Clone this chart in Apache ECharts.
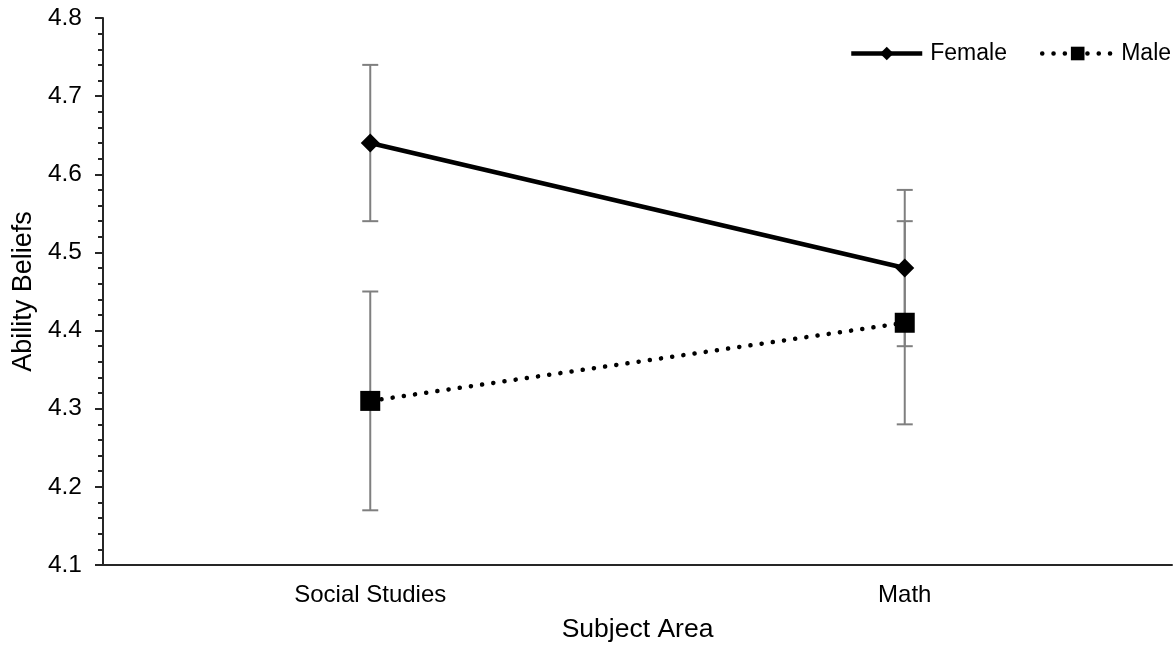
<!DOCTYPE html>
<html>
<head>
<meta charset="utf-8">
<title>Ability Beliefs by Subject Area</title>
<script src="https://cdn.jsdelivr.net/npm/echarts@6/dist/echarts.min.js"></script>
<style>
  html, body { margin: 0; padding: 0; background: #fff; }
  #chart { width: 1175px; height: 650px; }
</style>
</head>
<body>
<div id="chart"></div>
<script>
// Subject areas on the x axis
const categories = ['Social Studies', 'Math'];

// Mean ability beliefs per group
const femaleMeans = [4.64, 4.48];
const maleMeans = [4.31, 4.41];

// Error bar bounds (lower, upper) per group
const femaleLower = [4.54, 4.38];
const femaleUpper = [4.74, 4.58];
const maleLower = [4.17, 4.28];
const maleUpper = [4.45, 4.54];

const FONT = '"Liberation Sans", Arial, sans-serif';
const LINE_W = 4.5;
const DOT_DASH = [0.1, 11.2];

function errorBarData(lower, upper) {
  return categories.map((c, i) => [i, lower[i], upper[i]]);
}

function renderErrorBar(params, api) {
  const x = api.value(0);
  const lo = api.coord([x, api.value(1)]);
  const hi = api.coord([x, api.value(2)]);
  const half = 8;
  const style = { stroke: '#7f7f7f', lineWidth: 2, fill: null };
  return {
    type: 'group',
    children: [
      { type: 'line', shape: { x1: lo[0], y1: lo[1], x2: hi[0], y2: hi[1] }, style },
      { type: 'line', shape: { x1: hi[0] - half, y1: hi[1], x2: hi[0] + half, y2: hi[1] }, style },
      { type: 'line', shape: { x1: lo[0] - half, y1: lo[1], x2: lo[0] + half, y2: lo[1] }, style }
    ]
  };
}

const chart = echarts.init(document.getElementById('chart'), null, { renderer: 'canvas' });

chart.setOption({
  animation: false,
  backgroundColor: '#ffffff',
  textStyle: { fontFamily: FONT, color: '#000' },
  grid: { left: 103, right: 3, top: 18, bottom: 85 },
  legend: {
    data: [
      { name: 'Female', lineStyle: { width: LINE_W, color: '#000', type: 'solid' } },
      { name: 'Male', lineStyle: { width: LINE_W, color: '#000', type: DOT_DASH, cap: 'round' } }
    ],
    orient: 'horizontal',
    left: 849,
    top: 42,
    width: 330,
    padding: 0,
    itemWidth: 71,
    itemHeight: 17,
    itemGap: 33,
    textStyle: { fontFamily: FONT, fontSize: 23, color: '#000', padding: [0, 0, 0, 3] }
  },
  xAxis: {
    type: 'category',
    data: categories,
    boundaryGap: true,
    name: 'Subject Area',
    nameLocation: 'middle',
    nameGap: 51,
    nameTextStyle: { fontFamily: FONT, fontSize: 26.5, color: '#000' },
    axisLine: { lineStyle: { color: '#262626', width: 2 } },
    axisTick: { show: false },
    axisLabel: { fontFamily: FONT, fontSize: 24, color: '#000', margin: 18 },
    splitLine: { show: false }
  },
  yAxis: {
    type: 'value',
    min: 4.1,
    max: 4.8,
    interval: 0.1,
    name: 'Ability Beliefs',
    nameLocation: 'middle',
    nameGap: 60,
    nameTextStyle: { fontFamily: FONT, fontSize: 27, color: '#000' },
    axisLine: { show: true, lineStyle: { color: '#262626', width: 2 } },
    axisTick: { show: true, length: 8, lineStyle: { color: '#262626', width: 2 } },
    minorTick: { show: true, splitNumber: 5, length: 5, lineStyle: { color: '#262626', width: 2 } },
    axisLabel: {
      fontFamily: FONT, fontSize: 24.5, color: '#000', margin: 21,
      formatter: v => v.toFixed(1)
    },
    splitLine: { show: false }
  },
  series: [
    {
      type: 'custom',
      name: 'femaleErr',
      renderItem: renderErrorBar,
      data: errorBarData(femaleLower, femaleUpper),
      z: 1,
      silent: true
    },
    {
      type: 'custom',
      name: 'maleErr',
      renderItem: renderErrorBar,
      data: errorBarData(maleLower, maleUpper),
      z: 1,
      silent: true
    },
    {
      name: 'Female',
      type: 'line',
      data: femaleMeans,
      symbol: 'diamond',
      symbolSize: 19,
      itemStyle: { color: '#000' },
      lineStyle: { color: '#000', width: LINE_W },
      z: 3
    },
    {
      name: 'Male',
      type: 'line',
      data: maleMeans,
      symbol: 'rect',
      symbolSize: 20,
      itemStyle: { color: '#000' },
      lineStyle: { color: '#000', width: LINE_W, type: DOT_DASH, cap: 'round' },
      z: 3
    }
  ]
});
</script>
</body>
</html>
